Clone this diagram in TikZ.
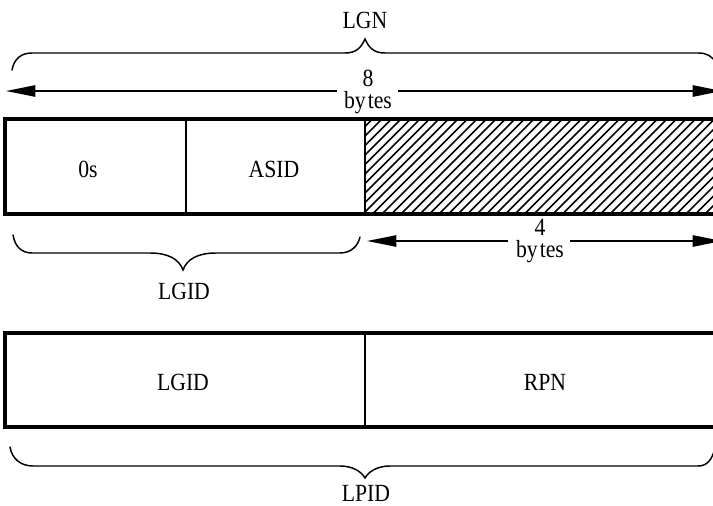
\documentclass[tikz,border=0pt]{standalone}
\usepackage{fontspec}
\setmainfont[FakeStretch=0.88]{Liberation Serif}
\usetikzlibrary{arrows.meta,calc}
\begin{document}
\begin{tikzpicture}[x=0.75pt,y=-0.75pt,
  lbl/.style={font=\fontsize{18.5}{20}\selectfont, inner sep=0pt},
  brc/.style={line width=1.1pt, line cap=round},
  dimline/.style={line width=1.1pt, -{Triangle[length=22pt,width=8.5pt]}},
  outer/.style={line width=2.3pt},
  divider/.style={line width=1.4pt},
  hatch/.style={line width=1.15pt}]
\useasboundingbox (0,0) rectangle (713,506);
\clip (0,0) rectangle (713,506);

% ---------- top: LGN brace and 8 bytes ----------
\node[lbl] (lgn) at (365,20) {LGN};
\draw[brc] (12,70) .. controls (14,59) and (21,53) .. (32,53) -- (345,53)
  .. controls (356,53) and (361,48) .. (365,39)
  .. controls (369,48) and (374,53) .. (385,53) -- (698,53)
  .. controls (707,53) and (712,56) .. (716,63);

\node[lbl] (eight) at (368,78) {8};
\node[lbl] (bytes8) at (368,103) {by\kern1.5pt tes};
\coordinate (a8l) at (6,91);
\coordinate (a8r) at (722,91);
\draw[dimline] ($(bytes8.west|-a8l)+(-7,0)$) -- (a8l);
\draw[dimline] ($(bytes8.east|-a8r)+(6,0)$) -- (a8r);

% ---------- first record ----------
\begin{scope}
  \clip (365,119) rectangle (730,214);
  \foreach \x in {268,277.5,...,740} {
    \draw[hatch] (\x,214) -- ++(95,-95);
  }
\end{scope}
\draw[outer] (5,119) rectangle (740,214);
\draw[divider] (186,119) -- (186,214);
\draw[divider] (365,119) -- (365,214);
\node[lbl] (zeros) at (88,169) {0s};
\node[lbl] (asid) at (274,169) {ASID};

% LGID brace
\draw[brc] (13,235) .. controls (15,247) and (22,253) .. (32,253) -- (150,253)
  .. controls (168,253) and (179,259) .. (183,270)
  .. controls (187,259) and (198,253) .. (216,253) -- (340,253)
  .. controls (351,253) and (358,246) .. (360,237);
\node[lbl] (lgid1) at (184,291) {LGID};

% 4 bytes
\node[lbl] (four) at (540,227) {4};
\node[lbl] (bytes4) at (540,252) {by\kern1.5pt tes};
\coordinate (a4l) at (367,241);
\coordinate (a4r) at (722,241);
\draw[dimline] ($(bytes4.west|-a4l)+(-8,0)$) -- (a4l);
\draw[dimline] ($(bytes4.east|-a4r)+(6,0)$) -- (a4r);

% ---------- second record ----------
\draw[outer] (5,333) rectangle (740,427);
\draw[divider] (365,333) -- (365,427);
\node[lbl] (lgid2) at (183,382) {LGID};
\node[lbl] (rpn) at (545,382) {RPN};

% LPID brace
\draw[brc] (10,447) .. controls (12,459) and (21,466) .. (33,466) -- (340,466)
  .. controls (352,466) and (361,471) .. (365,478)
  .. controls (369,471) and (378,466) .. (390,466) -- (698,466)
  .. controls (707,466) and (712,460) .. (715,448);
\node[lbl] (lpid) at (366,493) {LPID};
\end{tikzpicture}
\end{document}
